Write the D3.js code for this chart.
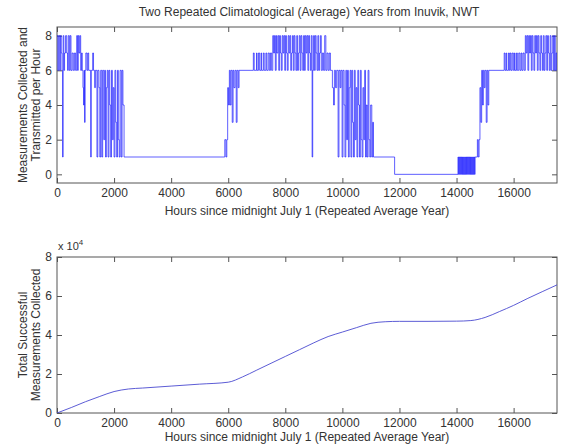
<!DOCTYPE html>
<html>
<head>
<meta charset="utf-8">
<script src="https://cdn.jsdelivr.net/npm/d3@7/dist/d3.min.js"></script>
<style>
  html, body { margin: 0; padding: 0; background: #fff; }
  svg { display: block; font-family: "Liberation Sans", Arial, sans-serif; }
  .tick text { font-size: 12px; fill: #333; }
  .tick line { stroke: #555; }
  .frame { fill: none; stroke: #555; stroke-width: 1; }
  .label { font-size: 12px; fill: #333; }
</style>
</head>
<body>
<div id="chart"></div>
<script>
// Two stacked MATLAB-style panels: hourly transmissions and the running total.

// Step breakpoints [hour, measurements per hour]; each value holds until the next hour.
const summerFirst = [
  [0, 8], [30, 6], [60, 8], [95, 6], [120, 8], [150, 7], [175, 6], [195, 1], [215, 8], [240, 6],
  [265, 7], [300, 8], [340, 7], [370, 6], [395, 8], [430, 6], [460, 8], [490, 6], [530, 7], [570, 6],
  [610, 7], [650, 6], [690, 8], [720, 6], [745, 8], [770, 7], [800, 8], [830, 6], [860, 7], [885, 6]
];
const autumnFirst = [
  [910, 5], [930, 4], [950, 6], [965, 3], [985, 6], [1010, 7], [1050, 6], [1080, 7], [1110, 6], [1180, 1],
  [1200, 6], [1250, 7], [1280, 6], [1320, 5], [1345, 6], [1400, 1], [1430, 6], [1470, 5], [1500, 1], [1530, 6],
  [1570, 1], [1600, 6], [1640, 2], [1670, 6], [1700, 1], [1730, 5], [1760, 6], [1790, 1], [1820, 6], [1850, 4],
  [1880, 1], [1910, 6], [1940, 2], [1970, 5], [2000, 1], [2030, 6], [2060, 3], [2090, 1], [2120, 6], [2150, 2],
  [2180, 1], [2210, 6], [2250, 1], [2280, 6], [2310, 4], [2350, 1]
];
const springFirst = [
  [5880, 2], [5920, 1], [5950, 2], [5980, 5], [6010, 4], [6040, 6], [6070, 4], [6100, 6], [6140, 3], [6170, 6],
  [6200, 5], [6240, 6], [6280, 3], [6310, 6], [6350, 5], [6380, 6]
];
const summerMid = [
  [6880, 7], [6910, 6], [6990, 7], [7010, 6], [7060, 7], [7100, 6], [7150, 7], [7170, 6], [7230, 7], [7260, 6],
  [7320, 7], [7350, 6], [7400, 7], [7440, 6], [7480, 7], [7520, 6], [7560, 8], [7590, 7], [7620, 8], [7650, 6],
  [7680, 8], [7700, 7], [7740, 8], [7770, 6], [7800, 8], [7830, 7], [7860, 6], [7890, 8], [7920, 7], [7950, 8],
  [7980, 6], [8010, 8], [8040, 7], [8070, 6], [8100, 8], [8130, 7], [8160, 8], [8190, 6], [8220, 7], [8250, 8],
  [8280, 6], [8310, 8], [8340, 7], [8370, 6], [8400, 8], [8430, 6], [8460, 7], [8490, 8], [8520, 6], [8550, 8],
  [8580, 7], [8610, 6], [8640, 8], [8670, 6], [8700, 8], [8730, 7], [8760, 8], [8790, 6], [8820, 8], [8850, 7],
  [8880, 6], [8910, 8], [8940, 1], [8960, 6], [8990, 8], [9020, 6], [9050, 8], [9080, 7], [9110, 6], [9140, 8],
  [9170, 6], [9200, 7], [9230, 8], [9260, 6], [9300, 7], [9340, 6], [9380, 8], [9420, 6], [9460, 7], [9500, 6],
  [9540, 7], [9580, 6]
];
const autumnSecond = [
  [9650, 5], [9690, 4], [9720, 6], [9760, 5], [9800, 6], [9850, 1], [9880, 6], [9920, 5], [9950, 6], [9990, 1],
  [10020, 6], [10060, 4], [10090, 1], [10120, 6], [10150, 2], [10180, 6], [10210, 1], [10240, 5], [10270, 6], [10300, 1],
  [10330, 6], [10360, 3], [10390, 1], [10420, 6], [10450, 2], [10480, 5], [10510, 1], [10540, 6], [10570, 4], [10600, 1],
  [10630, 6], [10660, 2], [10690, 1], [10720, 5], [10750, 2], [10780, 6], [10810, 1], [10840, 4], [10870, 1], [10900, 6],
  [10930, 2], [10960, 1], [10990, 4], [11030, 1], [11060, 3], [11090, 1]
];
const winterSecond = [
  [11830, 0], [14050, 1], [14070, 0], [14090, 1], [14110, 0], [14130, 1], [14150, 0], [14170, 1], [14190, 0], [14210, 1],
  [14230, 0], [14250, 1], [14270, 0], [14290, 1], [14310, 0], [14330, 1], [14350, 0], [14370, 1], [14390, 0], [14410, 1],
  [14430, 0], [14450, 1], [14470, 0], [14490, 1], [14510, 0], [14530, 1], [14550, 0], [14570, 1], [14590, 0], [14610, 1],
  [14630, 0], [14650, 1]
];
const springSecond = [
  [14730, 2], [14760, 1], [14790, 2], [14820, 5], [14850, 3], [14880, 6], [14910, 4], [14940, 6], [14970, 5], [15000, 6],
  [15040, 3], [15070, 6], [15100, 4], [15130, 6]
];
const summerEnd = [
  [15670, 7], [15700, 6], [15740, 7], [15760, 6], [15820, 7], [15850, 6], [15880, 7], [15910, 6], [15950, 7], [15990, 6],
  [16030, 7], [16050, 6], [16100, 7], [16130, 6], [16180, 7], [16220, 6], [16260, 7], [16290, 6], [16330, 7], [16370, 6],
  [16410, 8], [16440, 7], [16470, 8], [16500, 6], [16530, 8], [16560, 7], [16590, 8], [16620, 6], [16650, 8], [16680, 7],
  [16710, 6], [16740, 8], [16770, 7], [16800, 8], [16830, 6], [16860, 8], [16890, 7], [16920, 6], [16950, 8], [16980, 7],
  [17010, 6], [17040, 8], [17070, 6], [17100, 7], [17130, 8], [17160, 6], [17190, 8], [17220, 7], [17250, 6], [17280, 8],
  [17310, 6], [17340, 7], [17370, 8], [17400, 6], [17430, 8], [17460, 6], [17490, 7], [17520, 6]
];

const totalHours = [0, 500, 1000, 1500, 2000, 2500, 3000, 4000, 5000, 6000, 6500, 7000, 7500, 8000, 8500, 9000,
  9500, 10000, 10500, 11000, 11500, 12000, 13000, 14000, 14500, 15000, 15500, 16000, 16500, 17000, 17520];
const totalCounts = [0, 2800, 5800, 8500, 11000, 12300, 12800, 13800, 14800, 15800, 18500, 22000, 25500, 29000, 32500, 36000,
  39200, 41500, 43800, 46000, 46800, 47000, 47000, 47100, 47400, 49000, 52000, 55200, 58800, 62200, 65700];

const hourTicks = [0, 2000, 4000, 6000, 8000, 10000, 12000, 14000, 16000];
const rateTicks = [0, 2, 4, 6, 8];
const totalTicks = [0, 20000, 40000, 60000, 80000];

(function drawFigure() {
  "use strict";

  const width = 561;
  const height = 448;
  const left = 57;
  const right = 557;
  const svg = d3.select("#chart").append("svg").attr("width", width).attr("height", height);

  // Draws a boxed panel with inward ticks on all four sides, returns its scales.
  function drawPanel(top, bottom, yDomain, yTicks, yFormat, clipId) {
    const x = d3.scaleLinear().domain([0, 17520]).range([left, right]);
    const y = d3.scaleLinear().domain(yDomain).range([bottom, top]);

    svg.append("clipPath").attr("id", clipId)
      .append("rect").attr("x", left).attr("y", top).attr("width", right - left).attr("height", bottom - top);

    svg.append("g").attr("transform", "translate(0," + bottom + ")")
      .call(d3.axisBottom(x).tickValues(hourTicks).tickSizeInner(-5).tickSizeOuter(0).tickPadding(5).tickFormat(d3.format("d")));
    svg.append("g").attr("transform", "translate(0," + top + ")")
      .call(d3.axisTop(x).tickValues(hourTicks).tickSizeInner(-5).tickSizeOuter(0).tickFormat(""));
    svg.append("g").attr("transform", "translate(" + left + ",0)")
      .call(d3.axisLeft(y).tickValues(yTicks).tickSizeInner(-5).tickSizeOuter(0).tickPadding(5).tickFormat(yFormat));
    svg.append("g").attr("transform", "translate(" + right + ",0)")
      .call(d3.axisRight(y).tickValues(yTicks).tickSizeInner(-5).tickSizeOuter(0).tickFormat(""));
    svg.selectAll(".domain").remove();

    svg.append("rect").attr("class", "frame")
      .attr("x", left).attr("y", top).attr("width", right - left).attr("height", bottom - top);

    return { x: x, y: y };
  }

  // Writes a two-line rotated y-axis label centred on the panel.
  function yLabel(lines, centerY) {
    lines.forEach(function addLine(text, i) {
      svg.append("text").attr("class", "label")
        .attr("transform", "translate(" + (27 + i * 13) + "," + centerY + ") rotate(-90)")
        .attr("text-anchor", "middle")
        .text(text);
    });
  }

  function xLabel(yPos) {
    svg.append("text").attr("class", "label")
      .attr("x", (left + right) / 2).attr("y", yPos).attr("text-anchor", "middle")
      .text("Hours since midnight July 1 (Repeated Average Year)");
  }

  // Upper panel: measurements per hour as a step line.
  const upper = drawPanel(27, 183, [-0.5, 8.5], rateTicks, d3.format("d"), "clip-upper");
  const steps = [].concat(summerFirst, autumnFirst, springFirst, summerMid, autumnSecond, winterSecond, springSecond, summerEnd);
  svg.append("path")
    .datum(steps)
    .attr("clip-path", "url(#clip-upper)")
    .attr("fill", "none")
    .attr("stroke", "#1a1aff")
    .attr("stroke-width", 0.7)
    .attr("d", d3.line()
      .x(function px(d) { return upper.x(d[0]); })
      .y(function py(d) { return upper.y(d[1]); })
      .curve(d3.curveStepAfter));

  svg.append("text").attr("class", "label")
    .attr("x", (left + right) / 2 + 2).attr("y", 16).attr("text-anchor", "middle")
    .text("Two Repeated Climatological (Average) Years from Inuvik, NWT");
  yLabel(["Measurements Collected and", "Transmitted per Hour"], 105);
  xLabel(215);

  // Lower panel: cumulative total, ticks shown in units of 10^4.
  const lower = drawPanel(257, 413, [0, 80000], totalTicks, function fmt(d) { return d / 10000; }, "clip-lower");
  svg.append("path")
    .datum(totalHours.map(function pair(h, i) { return [h, totalCounts[i]]; }))
    .attr("clip-path", "url(#clip-lower)")
    .attr("fill", "none")
    .attr("stroke", "#4a4ad0")
    .attr("stroke-width", 0.9)
    .attr("d", d3.line()
      .x(function px(d) { return lower.x(d[0]); })
      .y(function py(d) { return lower.y(d[1]); })
      .curve(d3.curveMonotoneX));

  const scaleNote = svg.append("text").attr("class", "label").attr("x", 58).attr("y", 250).style("font-size", "11px");
  scaleNote.append("tspan").text("x 10");
  scaleNote.append("tspan").attr("dy", -5).style("font-size", "8px").text("4");

  yLabel(["Total Successful", "Measurements Collected"], 335);
  xLabel(441);
})();
</script>
</body>
</html>
